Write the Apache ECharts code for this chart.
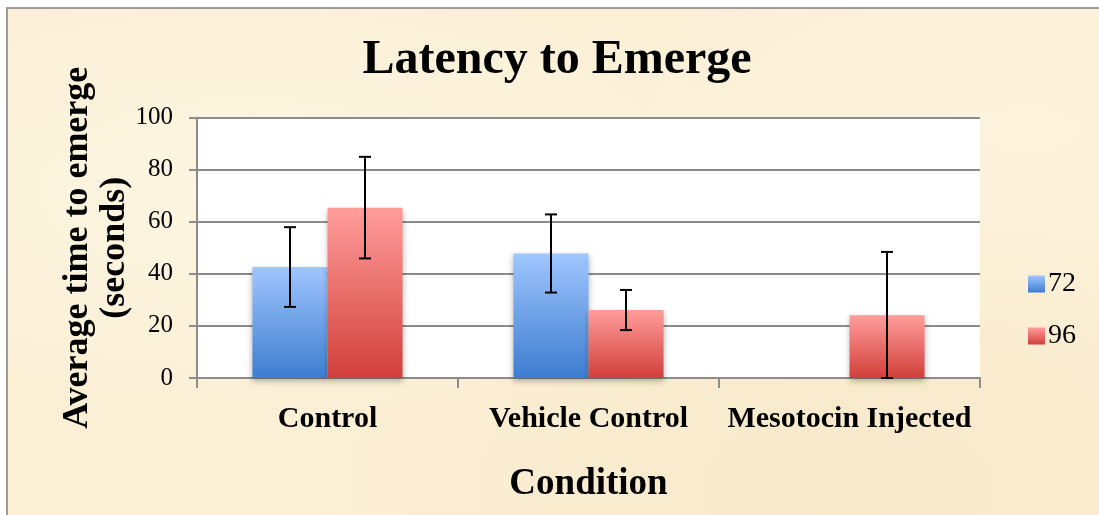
<!DOCTYPE html>
<html>
<head>
<meta charset="utf-8">
<script src="https://cdn.jsdelivr.net/npm/echarts@6/dist/echarts.min.js"></script>
<style>
  html, body { margin: 0; padding: 0; background: #ffffff; overflow: hidden; }
  #frame {
    position: absolute; left: 6px; top: 7px; width: 1200px; height: 600px;
    border: 2px solid #9c9c9c;
    background-color: #fbefd5;
    background-image:
      radial-gradient(ellipse at 20% 30%, rgba(255,250,235,0.6), rgba(255,250,235,0) 40%),
      radial-gradient(ellipse at 70% 80%, rgba(240,220,180,0.35), rgba(240,220,180,0) 45%),
      radial-gradient(ellipse at 85% 20%, rgba(255,248,230,0.5), rgba(255,248,230,0) 35%);
  }
  #chart { position: absolute; left: 0; top: 0; width: 1099px; height: 515px; }
</style>
</head>
<body>
<div id="frame"></div>
<div id="chart"></div>
<script>
// 数据
var categories = ["Control", "Vehicle Control", "Mesotocin Injected"];
var series72 = [42.6, 47.8, null];
var series96 = [65.4, 26.1, 24.1];
var err72 = [15.3, 15.0, null];
var err96 = [19.5, 7.7, 24.3];
var yTicks = { min: 0, max: 100, interval: 20 };

var catGap = 0.425;
var serif = "'Liberation Serif', 'DejaVu Serif', serif";
var gray = "#8c8c8c";

function errData(means, errs) {
  var out = [];
  for (var i = 0; i < means.length; i++) {
    if (means[i] != null && errs[i] != null) out.push([i, means[i], errs[i]]);
  }
  return out;
}

// 误差线, side: -1 左边柱子, 1 右边柱子
function errRender(side) {
  return function (params, api) {
    var x = api.value(0);
    var m = api.value(1);
    var e = api.value(2);
    var band = api.size([1, 0])[0];
    var barW = band * (1 - catGap) / 2;
    var hi = api.coord([x, m + e]);
    var lo = api.coord([x, Math.max(0, m - e)]);
    var cx = hi[0] + side * barW / 2;
    var cap = 6;
    var st = { stroke: "#000", lineWidth: 2 };
    return {
      type: "group",
      children: [
        { type: "line", shape: { x1: cx, y1: hi[1], x2: cx, y2: lo[1] }, style: st },
        { type: "line", shape: { x1: cx - cap, y1: hi[1], x2: cx + cap, y2: hi[1] }, style: st },
        { type: "line", shape: { x1: cx - cap, y1: lo[1], x2: cx + cap, y2: lo[1] }, style: st }
      ]
    };
  };
}

(function () {
  var myechart = echarts.init(document.getElementById("chart"));
  var blue = new echarts.graphic.LinearGradient(0, 0, 0, 1, [
    { offset: 0, color: "#a0c6ff" },
    { offset: 1, color: "#3d7dcf" }
  ]);
  var red = new echarts.graphic.LinearGradient(0, 0, 0, 1, [
    { offset: 0, color: "#ff9d9b" },
    { offset: 1, color: "#d13f3a" }
  ]);
  var option = {
    backgroundColor: "transparent",
    animation: false,
    title: {
      text: "Latency to Emerge",
      left: 552,
      textAlign: "center",
      top: 32,
      textStyle: { fontFamily: serif, fontSize: 48, fontWeight: "bold", color: "#000" }
    },
    legend: {
      orient: "vertical",
      left: 1023,
      top: 265,
      icon: "rect",
      itemWidth: 17,
      itemHeight: 17,
      itemGap: 24,
      data: ["72", "96"],
      textStyle: { fontFamily: serif, fontSize: 28, color: "#000", lineHeight: 28, padding: [0, 0, 0, -2] }
    },
    grid: {
      left: 197,
      right: 119,
      top: 117.5,
      bottom: 137,
      show: true,
      backgroundColor: "#ffffff",
      borderWidth: 0
    },
    xAxis: {
      type: "category",
      data: categories,
      name: "Condition",
      nameLocation: "middle",
      nameGap: 88,
      nameTextStyle: { fontFamily: serif, fontSize: 37, fontWeight: "bold", color: "#000" },
      axisLine: { lineStyle: { color: gray, width: 2 } },
      axisTick: { show: true, alignWithLabel: false, length: 10, lineStyle: { color: gray, width: 2 } },
      axisLabel: { fontFamily: serif, fontSize: 30, fontWeight: "bold", color: "#000", margin: 26, interval: 0 }
    },
    yAxis: {
      type: "value",
      min: yTicks.min,
      max: yTicks.max,
      interval: yTicks.interval,
      name: "Average time to emerge\n(seconds)",
      nameLocation: "middle",
      nameRotate: 90,
      nameGap: 64,
      nameMoveOverlap: false,
      nameTextStyle: { fontFamily: serif, fontSize: 36, fontWeight: "bold", color: "#000", lineHeight: 37 },
      axisLine: { show: true, lineStyle: { color: gray, width: 2 } },
      axisTick: { show: true, length: 8, lineStyle: { color: gray, width: 2 } },
      axisLabel: { fontFamily: serif, fontSize: 25, color: "#000", margin: 24 },
      splitLine: { lineStyle: { color: gray, width: 2 } }
    },
    series: [
      {
        name: "72",
        type: "bar",
        data: series72,
        barGap: "0%",
        barCategoryGap: catGap * 100 + "%",
        itemStyle: { color: blue, shadowBlur: 6, shadowColor: "rgba(0,0,0,0.3)", shadowOffsetY: 3 }
      },
      {
        name: "96",
        type: "bar",
        data: series96,
        barGap: "0%",
        barCategoryGap: catGap * 100 + "%",
        itemStyle: { color: red, shadowBlur: 6, shadowColor: "rgba(0,0,0,0.3)", shadowOffsetY: 3 }
      },
      {
        name: "err72",
        type: "custom",
        renderItem: errRender(-1),
        data: errData(series72, err72),
        encode: { x: 0, y: 1 },
        z: 10
      },
      {
        name: "err96",
        type: "custom",
        renderItem: errRender(1),
        data: errData(series96, err96),
        encode: { x: 0, y: 1 },
        z: 10
      }
    ]
  };
  myechart.setOption(option);
})();
</script>
</body>
</html>
